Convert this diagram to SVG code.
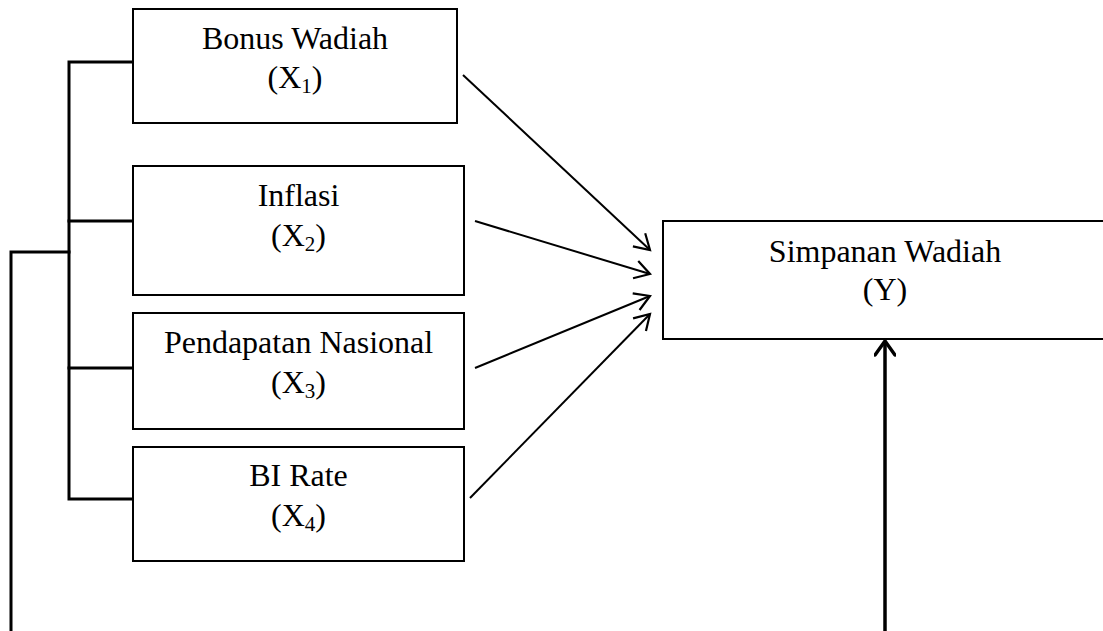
<svg xmlns="http://www.w3.org/2000/svg" width="1103" height="631" viewBox="0 0 1103 631">
<style>
.box{fill:#fff;stroke:#000;stroke-width:2}
.t{font-family:"Liberation Serif","Times New Roman",serif;font-size:32px;fill:#000;text-anchor:middle}
.sub{font-size:21px}
.br{fill:none;stroke:#000;stroke-width:3;stroke-linecap:square}
.ar{fill:none;stroke:#000;stroke-width:2}
.up{fill:none;stroke:#000;stroke-width:3.5}
</style>
<defs>
<marker id="ah" viewBox="-18 -11 22 22" refX="0" refY="0" markerWidth="22" markerHeight="22" markerUnits="userSpaceOnUse" orient="auto">
<path d="M-15,-9 L0,0 L-15,9" fill="none" stroke="#000" stroke-width="2.2"/>
</marker>
<marker id="ahb" viewBox="-18 -11 22 22" refX="0" refY="0" markerWidth="22" markerHeight="22" markerUnits="userSpaceOnUse" orient="auto">
<path d="M-14,-10 L0,0 L-14,10" fill="none" stroke="#000" stroke-width="3.5" stroke-linecap="round"/>
</marker>
</defs>
<g id="connectors">
<polyline class="br" points="133,62 69,62 69,499 133,499"/>
<line class="br" x1="69" y1="221" x2="133" y2="221"/>
<line class="br" x1="69" y1="368" x2="133" y2="368"/>
<polyline class="br" points="69,252 11,252 11,640"/>
<line class="ar" x1="463" y1="75" x2="650" y2="250" marker-end="url(#ah)"/>
<line class="ar" x1="475" y1="221" x2="650" y2="274" marker-end="url(#ah)"/>
<line class="ar" x1="475" y1="368" x2="650" y2="296" marker-end="url(#ah)"/>
<line class="ar" x1="470" y1="498" x2="650" y2="314" marker-end="url(#ah)"/>
<line class="up" x1="885" y1="640" x2="885" y2="341" marker-end="url(#ahb)"/>
</g>
<g id="x1">
<rect class="box" x="133" y="9" width="324" height="114"/>
<text class="t" x="295" y="49">Bonus Wadiah</text>
<text class="t" x="295" y="88">(X<tspan class="sub" dy="5">1</tspan><tspan dy="-5">)</tspan></text>
</g>
<g id="x2">
<rect class="box" x="133" y="166" width="331" height="129"/>
<text class="t" x="298.5" y="206">Inflasi</text>
<text class="t" x="298.5" y="246">(X<tspan class="sub" dy="5">2</tspan><tspan dy="-5">)</tspan></text>
</g>
<g id="x3">
<rect class="box" x="133" y="313" width="331" height="116"/>
<text class="t" x="298.5" y="353">Pendapatan Nasional</text>
<text class="t" x="298.5" y="393">(X<tspan class="sub" dy="5">3</tspan><tspan dy="-5">)</tspan></text>
</g>
<g id="x4">
<rect class="box" x="133" y="447" width="331" height="114"/>
<text class="t" x="298.5" y="486">BI Rate</text>
<text class="t" x="298.5" y="526">(X<tspan class="sub" dy="5">4</tspan><tspan dy="-5">)</tspan></text>
</g>
<g id="y">
<rect class="box" x="663" y="221" width="450" height="118"/>
<text class="t" x="885" y="262">Simpanan Wadiah</text>
<text class="t" x="885" y="300">(Y)</text>
</g>
</svg>
